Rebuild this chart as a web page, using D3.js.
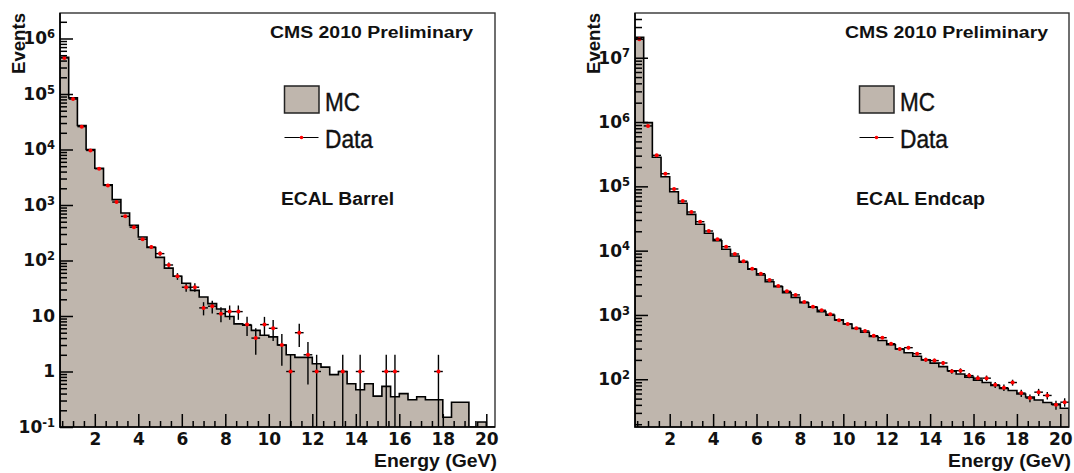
<!DOCTYPE html>
<html>
<head>
<meta charset="utf-8">
<script src="https://cdn.jsdelivr.net/npm/d3@7"></script>
<style>
  body { margin: 0; background: #fff; }
</style>
</head>
<body>
<div id="chart"></div>
<script>
'use strict';

// bin edges of both energy histograms (GeV), 50 bins of 0.4 GeV
const energyEdges = [0.4, 0.8, 1.2, 1.6, 2.0, 2.4, 2.8, 3.2, 3.6, 4.0,
  4.4, 4.8, 5.2, 5.6, 6.0, 6.4, 6.8, 7.2, 7.6, 8.0,
  8.4, 8.8, 9.2, 9.6, 10.0, 10.4, 10.8, 11.2, 11.6, 12.0,
  12.4, 12.8, 13.2, 13.6, 14.0, 14.4, 14.8, 15.2, 15.6, 16.0,
  16.4, 16.8, 17.2, 17.6, 18.0, 18.4, 18.8, 19.2, 19.6, 20.0, 20.4];

// ECAL barrel: MC prediction and observed events per bin
const barrelMC = [460000, 85000, 27000, 10000, 4600, 2300, 1250, 718, 430, 265,
  172, 114, 73, 52, 39, 29, 22, 16.7, 13.4, 9.8,
  7.2, 6.8, 5.5, 4.5, 4.2, 3.0, 2.0, 1.8, 1.8, 1.38,
  1.2, 0.88, 1.0, 0.6, 0.47, 0.6, 0.36, 0.54, 0.35, 0.4,
  0.31, 0.35, 0.31, 0.31, 0.15, 0.28, 0.28, 0, 0.123, 0];
const barrelData = [445000, 81000, 25800, 9600, 4500, 2250, 1130, 624, 398, 242,
  175, 133, 83, 52, 33, 33, 14, 15, 11, 12,
  12, 7, 4, 7, 6, 3, 1, 5, 2, 1,
  0, 0, 1, 0, 1, 0, 0, 1, 1, 0,
  0, 0, 0, 1, 0, 0, 0, 0, 0, 0];

// ECAL endcap: MC prediction and observed events per bin
const endcapMC = [20700000, 980000, 283000, 141000, 82600, 54500, 36700, 25700, 18600, 14290,
  10500, 8260, 6590, 5130, 4190, 3290, 2750, 2220, 1880, 1550,
  1316, 1125, 990, 840, 724, 615, 538, 462, 400, 345,
  295, 258, 228, 200, 178, 157, 136, 121, 108, 97,
  89, 80, 72, 67, 59, 53, 47.5, 43.5, 41, 35.4];
const endcapData = [19300000, 870000, 304000, 157000, 91000, 59000, 39900, 28200, 20200, 15000,
  11530, 8870, 6830, 5240, 4380, 3500, 2820, 2330, 2050, 1590,
  1345, 1183, 1025, 826, 724, 621, 564, 476, 443, 357,
  296, 310, 250, 202, 195, 179, 133, 136, 114, 104,
  104, 82, 74, 89, 61, 51, 63, 56, 40, 44];

// tick labels
const xTickLabels = [2, 4, 6, 8, 10, 12, 14, 16, 18, 20];
const barrelYTicks = [0.1, 1, 10, 100, 1e3, 1e4, 1e5, 1e6];
const endcapYTicks = [1e2, 1e3, 1e4, 1e5, 1e6, 1e7];

const fillColor = '#bfb6ad';
const tickFont = '"DejaVu Sans", sans-serif';
const titleFont = '"Liberation Sans", Arial, sans-serif';

let svg = d3.select('#chart').append('svg')
    .attr('width', 1074)
    .attr('height', 473);

drawPanel({id: 'barrel', left: 60, right: 495, top: 13, bottom: 427,
  yDomain: [0.1, 2.88e6], yTicks: barrelYTicks,
  mc: barrelMC, data: barrelData, label: 'ECAL Barrel', labelWidth: 113});

drawPanel({id: 'endcap', left: 635, right: 1069, top: 13, bottom: 427,
  yDomain: [18.1, 4.96e7], yTicks: endcapYTicks,
  mc: endcapMC, data: endcapData, label: 'ECAL Endcap', labelWidth: 129});

function isDecade(v) {
  const l = Math.log10(v);
  return Math.abs(l - Math.round(l)) < 1e-9;
}

function drawPanel(p) {

  // 1. scales: linear energy, log events
  const x = d3.scaleLinear()
      .domain([energyEdges[0], energyEdges[energyEdges.length - 1]])
      .range([p.left, p.right]);
  const y = d3.scaleLog()
      .domain(p.yDomain)
      .range([p.bottom, p.top]);
  const yMin = p.yDomain[0];
  const yOf = v => v > yMin ? y(v) : y(yMin);

  const g = svg.append('g');

  g.append('clipPath').attr('id', 'clip-' + p.id)
    .append('rect')
      .attr('x', p.left).attr('y', p.top)
      .attr('width', p.right - p.left).attr('height', p.bottom - p.top);

  const plot = g.append('g').attr('clip-path', 'url(#clip-' + p.id + ')');

  // 2. MC histogram: filled steps with black outline
  const n = p.mc.length;
  const steps = [[energyEdges[0], 0]]
      .concat(p.mc.map((v, i) => [energyEdges[i], v]))
      .concat([[energyEdges[n], p.mc[n - 1]], [energyEdges[n], 0]]);

  plot.append('path')
      .datum(steps)
      .attr('fill', fillColor)
      .attr('d', d3.area()
          .x(d => x(d[0]))
          .y0(p.bottom)
          .y1(d => yOf(d[1]))
          .curve(d3.curveStepAfter));

  plot.append('path')
      .datum(steps)
      .attr('fill', 'none')
      .attr('stroke', '#000')
      .attr('stroke-width', 1.6)
      .attr('d', d3.line()
          .x(d => x(d[0]))
          .y(d => yOf(d[1]))
          .curve(d3.curveStepAfter));

  // 3. data points with sqrt(N) errors and bin-width bars
  const pts = p.data.map((v, i) => ({lo: energyEdges[i], hi: energyEdges[i + 1], v: v}))
      .filter(d => d.v > 0);

  plot.selectAll('.xerr')
      .data(pts)
      .enter().append('line')
      .attr('x1', d => x(d.lo))
      .attr('x2', d => x(d.hi))
      .attr('y1', d => y(d.v))
      .attr('y2', d => y(d.v))
      .attr('stroke', '#000')
      .attr('stroke-width', 1.4);

  plot.selectAll('.yerr')
      .data(pts)
      .enter().append('line')
      .attr('x1', d => x((d.lo + d.hi) / 2))
      .attr('x2', d => x((d.lo + d.hi) / 2))
      .attr('y1', d => yOf(d.v - Math.sqrt(d.v)))
      .attr('y2', d => y(d.v + Math.sqrt(d.v)))
      .attr('stroke', '#000')
      .attr('stroke-width', 1.4);

  plot.selectAll('.dot')
      .data(pts)
      .enter().append('circle')
      .attr('cx', d => x((d.lo + d.hi) / 2))
      .attr('cy', d => y(d.v))
      .attr('r', 2)
      .attr('fill', '#ff0000');

  // 4. frame
  g.append('rect')
      .attr('x', p.left).attr('y', p.top)
      .attr('width', p.right - p.left).attr('height', p.bottom - p.top)
      .attr('fill', 'none')
      .attr('stroke', '#333')
      .attr('stroke-width', 1.4);

  // 5. y axis: major ticks with labels, minor ticks
  const yAxis = g.append('g')
      .attr('transform', 'translate(' + p.left + ',0)')
      .call(d3.axisLeft(y)
          .tickValues(p.yTicks)
          .tickSizeInner(-13)
          .tickSizeOuter(0)
          .tickPadding(5)
          .tickFormat(d => d));
  yAxis.select('.domain').remove();
  yAxis.attr('font-family', tickFont).attr('font-size', 17).attr('font-weight', 'bold');
  yAxis.selectAll('text')
      .attr('fill', '#111')
      .each(function(d) {
        const e = Math.round(Math.log10(d));
        const t = d3.select(this);
        if (e === 0 || e === 1) {
          t.text(e === 0 ? '1' : '10');
          return;
        }
        t.text('10');
        t.append('tspan')
            .attr('dy', '-0.55em')
            .attr('font-size', 11.5)
            .text(e);
      });

  const yMinor = y.ticks().filter(d => d >= yMin && !isDecade(d));
  const yMinorAxis = g.append('g')
      .attr('transform', 'translate(' + p.left + ',0)')
      .call(d3.axisLeft(y).tickValues(yMinor).tickSize(-7).tickFormat(''));
  yMinorAxis.select('.domain').remove();

  // 6. x axis: labels every 2 GeV, minor ticks every 0.5 GeV
  const xAxis = g.append('g')
      .attr('transform', 'translate(0,' + p.bottom + ')')
      .call(d3.axisBottom(x)
          .tickValues(xTickLabels)
          .tickSizeInner(-13)
          .tickSizeOuter(0)
          .tickPadding(6)
          .tickFormat(d3.format('d')));
  xAxis.select('.domain').remove();
  xAxis.attr('font-family', tickFont).attr('font-size', 17).attr('font-weight', 'bold');
  xAxis.selectAll('text').attr('fill', '#111');

  const xMinor = d3.range(0.5, 20.01, 0.5).filter(d => xTickLabels.indexOf(d) < 0);
  const xMinorAxis = g.append('g')
      .attr('transform', 'translate(0,' + p.bottom + ')')
      .call(d3.axisBottom(x).tickValues(xMinor).tickSize(-6).tickFormat(''));
  xMinorAxis.select('.domain').remove();

  g.selectAll('.tick line').attr('stroke', '#000').attr('stroke-width', 1.5);

  // axis lines
  g.append('path')
      .attr('d', 'M' + p.left + ',' + p.top + 'V' + p.bottom + 'H' + p.right)
      .attr('fill', 'none')
      .attr('stroke', '#000')
      .attr('stroke-width', 1.6);

  // 7. titles and legend
  const text = (str, xx, yy, size, len, plain) => {
    return g.append('text')
        .attr('x', xx).attr('y', yy)
        .attr('font-family', titleFont)
        .attr('font-weight', plain ? 'normal' : 'bold')
        .attr('font-size', size)
        .attr('fill', '#111')
        .attr('textLength', len)
        .attr('lengthAdjust', 'spacingAndGlyphs')
        .text(str);
  };

  text('CMS 2010 Preliminary', p.left + 210, 37.5, 16, 203);
  text(p.label, p.left + 221, 205, 18, p.labelWidth);
  text('Energy (GeV)', p.right - 121, 466.5, 18, 123);

  g.append('text')
      .attr('transform', 'translate(' + (p.left - 35) + ',0) rotate(-90)')
      .attr('x', -74)
      .attr('y', 0)
      .attr('font-family', titleFont)
      .attr('font-weight', 'bold')
      .attr('font-size', 17.5)
      .attr('fill', '#111')
      .attr('textLength', 61)
      .attr('lengthAdjust', 'spacingAndGlyphs')
      .text('Events');

  g.append('rect')
      .attr('x', p.left + 224.5).attr('y', 86)
      .attr('width', 34.5).attr('height', 27)
      .attr('fill', fillColor)
      .attr('stroke', '#222')
      .attr('stroke-width', 1.5);
  text('MC', p.left + 265, 111, 25, 35, true).attr('stroke', '#111').attr('stroke-width', 0.4);

  g.append('line')
      .attr('x1', p.left + 224.5).attr('x2', p.left + 258.5)
      .attr('y1', 137.5).attr('y2', 137.5)
      .attr('stroke', '#000')
      .attr('stroke-width', 1.2);
  g.append('circle')
      .attr('cx', p.left + 241.5).attr('cy', 137.5)
      .attr('r', 1.8)
      .attr('fill', '#ff0000');
  text('Data', p.left + 265, 147.5, 25, 48, true).attr('stroke', '#111').attr('stroke-width', 0.4);
}
</script>
</body>
</html>
